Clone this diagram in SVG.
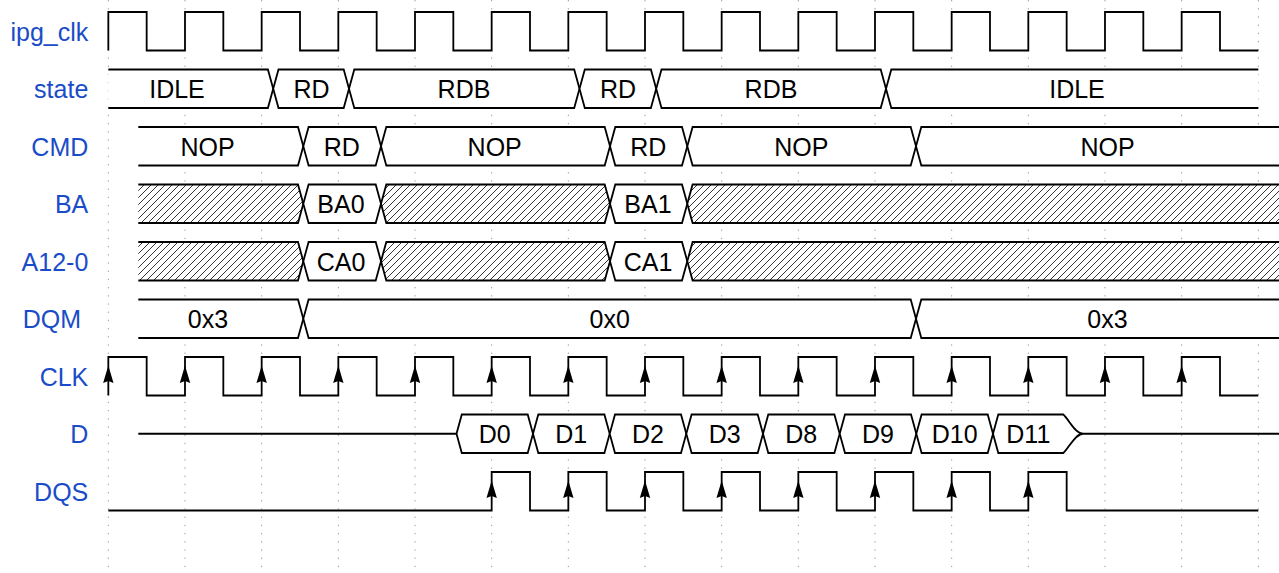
<svg xmlns="http://www.w3.org/2000/svg" width="1279" height="573" viewBox="0 0 1279 573">
<style>
.grid{stroke:#999;stroke-width:1;stroke-dasharray:1.3 6.9;fill:none}
.wave{stroke:#000;stroke-width:1.8;fill:none;stroke-linejoin:miter}
.bus{stroke:#000;stroke-width:1.8;fill:#fff;stroke-linejoin:miter}
.hatch{stroke:#000;stroke-width:1.8;fill:url(#hatch);stroke-linejoin:miter}
.lbl{font-family:"Liberation Sans",Arial,Helvetica,sans-serif;font-size:25px;fill:#1a4cc8;text-anchor:end}
.val{font-family:"Liberation Sans",Arial,Helvetica,sans-serif;font-size:25px;fill:#000;text-anchor:middle}
.arr{fill:#000;stroke:none}
</style>
<defs>
<pattern id="hatch" patternUnits="userSpaceOnUse" width="7" height="7">
<rect width="7" height="7" fill="#fff"/>
<path d="M-1,8 L8,-1 M-1,1 L1,-1 M6,8 L8,6" stroke="#000" stroke-width="0.8"/>
</pattern>
<path id="arr" class="arr" d="M0,0 L5.2,17.5 L0,15.5 L-5.2,17.5 Z"/>
</defs>
<rect width="1279" height="573" fill="#fff"/>
<g id="connectors">
<g id="grid">
<line class="grid" x1="108.33" y1="0" x2="108.33" y2="573"/>
<line class="grid" x1="185" y1="0" x2="185" y2="573"/>
<line class="grid" x1="261.67" y1="0" x2="261.67" y2="573"/>
<line class="grid" x1="338.33" y1="0" x2="338.33" y2="573"/>
<line class="grid" x1="415" y1="0" x2="415" y2="573"/>
<line class="grid" x1="491.67" y1="0" x2="491.67" y2="573"/>
<line class="grid" x1="568.33" y1="0" x2="568.33" y2="573"/>
<line class="grid" x1="645" y1="0" x2="645" y2="573"/>
<line class="grid" x1="721.67" y1="0" x2="721.67" y2="573"/>
<line class="grid" x1="798.33" y1="0" x2="798.33" y2="573"/>
<line class="grid" x1="875" y1="0" x2="875" y2="573"/>
<line class="grid" x1="951.67" y1="0" x2="951.67" y2="573"/>
<line class="grid" x1="1028.33" y1="0" x2="1028.33" y2="573"/>
<line class="grid" x1="1105" y1="0" x2="1105" y2="573"/>
<line class="grid" x1="1181.67" y1="0" x2="1181.67" y2="573"/>
<line class="grid" x1="1258.33" y1="0" x2="1258.33" y2="573"/>
</g>
</g>

<g id="ipg_clk">
<text class="lbl" x="88.3" y="41.25">ipg_clk</text>
<path class="wave" d="M108.33,50.5 v-38.5h38.333v38.5h38.333 v-38.5h38.333v38.5h38.333 v-38.5h38.333v38.5h38.333 v-38.5h38.333v38.5h38.333 v-38.5h38.333v38.5h38.333 v-38.5h38.333v38.5h38.333 v-38.5h38.333v38.5h38.333 v-38.5h38.333v38.5h38.333 v-38.5h38.333v38.5h38.333 v-38.5h38.333v38.5h38.333 v-38.5h38.333v38.5h38.333 v-38.5h38.333v38.5h38.333 v-38.5h38.333v38.5h38.333 v-38.5h38.333v38.5h38.333 v-38.5h38.333v38.5h38.333"/>
</g>

<g id="state">
<text class="lbl" x="88.3" y="98.25">state</text>
<path class="bus" d="M108.33,69.5 H267.9 L273.2,88.75 L267.9,108 H108.33"/>
<path class="bus" d="M273.2,88.75 L278.5,69.5 H343.7 L349,88.75 L343.7,108 H278.5 Z"/>
<path class="bus" d="M349,88.75 L354.3,69.5 H574.2 L579.5,88.75 L574.2,108 H354.3 Z"/>
<path class="bus" d="M579.5,88.75 L584.8,69.5 H650.9 L656.2,88.75 L650.9,108 H584.8 Z"/>
<path class="bus" d="M656.2,88.75 L661.5,69.5 H880.7 L886,88.75 L880.7,108 H661.5 Z"/>
<path class="bus" d="M1258.33,69.5 H891.3 L886,88.75 L891.3,108 H1258.33"/>
<text class="val" x="177" y="98.25">IDLE</text>
<text class="val" x="311.5" y="98.25">RD</text>
<text class="val" x="464" y="98.25">RDB</text>
<text class="val" x="618" y="98.25">RD</text>
<text class="val" x="771" y="98.25">RDB</text>
<text class="val" x="1077" y="98.25">IDLE</text>
</g>

<g id="CMD">
<text class="lbl" x="88.3" y="155.75">CMD</text>
<path class="bus" d="M138.3,127 H298 L303.3,146.25 L298,165.5 H138.3"/>
<path class="bus" d="M303.3,146.25 L308.6,127 H375.7 L381,146.25 L375.7,165.5 H308.6 Z"/>
<path class="bus" d="M381,146.25 L386.3,127 H604.7 L610,146.25 L604.7,165.5 H386.3 Z"/>
<path class="bus" d="M610,146.25 L615.3,127 H682 L687.3,146.25 L682,165.5 H615.3 Z"/>
<path class="bus" d="M687.3,146.25 L692.6,127 H910.7 L916,146.25 L910.7,165.5 H692.6 Z"/>
<path class="bus" d="M1285,127 H921.3 L916,146.25 L921.3,165.5 H1285"/>
<text class="val" x="207.5" y="155.75">NOP</text>
<text class="val" x="341.7" y="155.75">RD</text>
<text class="val" x="494.7" y="155.75">NOP</text>
<text class="val" x="648.3" y="155.75">RD</text>
<text class="val" x="801.3" y="155.75">NOP</text>
<text class="val" x="1107.5" y="155.75">NOP</text>
</g>

<g id="BA">
<text class="lbl" x="88.3" y="213.25">BA</text>
<path class="hatch" d="M138.3,184.5 H298 L303.3,203.75 L298,223 H138.3"/>
<path class="bus" d="M303.3,203.75 L308.6,184.5 H375.7 L381,203.75 L375.7,223 H308.6 Z"/>
<path class="hatch" d="M381,203.75 L386.3,184.5 H604.7 L610,203.75 L604.7,223 H386.3 Z"/>
<path class="bus" d="M610,203.75 L615.3,184.5 H682 L687.3,203.75 L682,223 H615.3 Z"/>
<path class="hatch" d="M1285,184.5 H692.6 L687.3,203.75 L692.6,223 H1285"/>
<text class="val" x="341" y="213.25">BA0</text>
<text class="val" x="648" y="213.25">BA1</text>
</g>

<g id="A12-0">
<text class="lbl" x="88.3" y="270.75">A12-0</text>
<path class="hatch" d="M138.3,242 H298 L303.3,261.25 L298,280.5 H138.3"/>
<path class="bus" d="M303.3,261.25 L308.6,242 H375.7 L381,261.25 L375.7,280.5 H308.6 Z"/>
<path class="hatch" d="M381,261.25 L386.3,242 H604.7 L610,261.25 L604.7,280.5 H386.3 Z"/>
<path class="bus" d="M610,261.25 L615.3,242 H682 L687.3,261.25 L682,280.5 H615.3 Z"/>
<path class="hatch" d="M1285,242 H692.6 L687.3,261.25 L692.6,280.5 H1285"/>
<text class="val" x="341" y="270.75">CA0</text>
<text class="val" x="648" y="270.75">CA1</text>
</g>

<g id="DQM">
<text class="lbl" x="81" y="328.25">DQM</text>
<path class="bus" d="M138.3,299.5 H298 L303.3,318.75 L298,338 H138.3"/>
<path class="bus" d="M303.3,318.75 L308.6,299.5 H910.7 L916,318.75 L910.7,338 H308.6 Z"/>
<path class="bus" d="M1285,299.5 H921.3 L916,318.75 L921.3,338 H1285"/>
<text class="val" x="208" y="328.25">0x3</text>
<text class="val" x="609.7" y="328.25">0x0</text>
<text class="val" x="1107.5" y="328.25">0x3</text>
</g>

<g id="CLK">
<text class="lbl" x="88.3" y="385.75">CLK</text>
<path class="wave" d="M108.33,395.5 v-38.5h38.333v38.5h38.333 v-38.5h38.333v38.5h38.333 v-38.5h38.333v38.5h38.333 v-38.5h38.333v38.5h38.333 v-38.5h38.333v38.5h38.333 v-38.5h38.333v38.5h38.333 v-38.5h38.333v38.5h38.333 v-38.5h38.333v38.5h38.333 v-38.5h38.333v38.5h38.333 v-38.5h38.333v38.5h38.333 v-38.5h38.333v38.5h38.333 v-38.5h38.333v38.5h38.333 v-38.5h38.333v38.5h38.333 v-38.5h38.333v38.5h38.333 v-38.5h38.333v38.5h38.333"/>
<use href="#arr" x="108.33" y="365.5"/>
<use href="#arr" x="185" y="365.5"/>
<use href="#arr" x="261.67" y="365.5"/>
<use href="#arr" x="338.33" y="365.5"/>
<use href="#arr" x="415" y="365.5"/>
<use href="#arr" x="491.67" y="365.5"/>
<use href="#arr" x="568.33" y="365.5"/>
<use href="#arr" x="645" y="365.5"/>
<use href="#arr" x="721.67" y="365.5"/>
<use href="#arr" x="798.33" y="365.5"/>
<use href="#arr" x="875" y="365.5"/>
<use href="#arr" x="951.67" y="365.5"/>
<use href="#arr" x="1028.33" y="365.5"/>
<use href="#arr" x="1105" y="365.5"/>
<use href="#arr" x="1181.67" y="365.5"/>
</g>

<g id="D">
<text class="lbl" x="88.3" y="443.25">D</text>
<path class="wave" d="M138.3,433.75 H456.5"/>
<path class="bus" d="M456.5,433.75 L461.8,414.5 H527.7 L533,433.75 L527.7,453 H461.8 Z"/>
<path class="bus" d="M533,433.75 L538.3,414.5 H604.4 L609.7,433.75 L604.4,453 H538.3 Z"/>
<path class="bus" d="M609.7,433.75 L615,414.5 H681 L686.3,433.75 L681,453 H615 Z"/>
<path class="bus" d="M686.3,433.75 L691.6,414.5 H757.7 L763,433.75 L757.7,453 H691.6 Z"/>
<path class="bus" d="M763,433.75 L768.3,414.5 H834.4 L839.7,433.75 L834.4,453 H768.3 Z"/>
<path class="bus" d="M839.7,433.75 L845,414.5 H911 L916.3,433.75 L911,453 H845 Z"/>
<path class="bus" d="M916.3,433.75 L921.6,414.5 H987.7 L993,433.75 L987.7,453 H921.6 Z"/>
<path class="bus" d="M993,433.75 L998.3,414.5 H1063.3 C1069,419.5 1075,433.75 1083,433.75 C1075,433.75 1069,448 1063.3,453 H998.3 Z"/>
<path class="wave" d="M1083,433.75 H1285"/>
<text class="val" x="494.8" y="443.25">D0</text>
<text class="val" x="571.3" y="443.25">D1</text>
<text class="val" x="648" y="443.25">D2</text>
<text class="val" x="724.7" y="443.25">D3</text>
<text class="val" x="801.3" y="443.25">D8</text>
<text class="val" x="878" y="443.25">D9</text>
<text class="val" x="954.7" y="443.25">D10</text>
<text class="val" x="1028.3" y="443.25">D11</text>
</g>

<g id="DQS">
<text class="lbl" x="88.3" y="500.75">DQS</text>
<path class="wave" d="M108.33,510.5 H491.67 v-38.5h38.333v38.5h38.333 v-38.5h38.333v38.5h38.333 v-38.5h38.333v38.5h38.333 v-38.5h38.333v38.5h38.333 v-38.5h38.333v38.5h38.333 v-38.5h38.333v38.5h38.333 v-38.5h38.333v38.5h38.333 v-38.5h38.333v38.5h38.333 H1258.33"/>
<use href="#arr" x="491.67" y="480.5"/>
<use href="#arr" x="568.33" y="480.5"/>
<use href="#arr" x="645" y="480.5"/>
<use href="#arr" x="721.67" y="480.5"/>
<use href="#arr" x="798.33" y="480.5"/>
<use href="#arr" x="875" y="480.5"/>
<use href="#arr" x="951.67" y="480.5"/>
<use href="#arr" x="1028.33" y="480.5"/>
</g>
</svg>
